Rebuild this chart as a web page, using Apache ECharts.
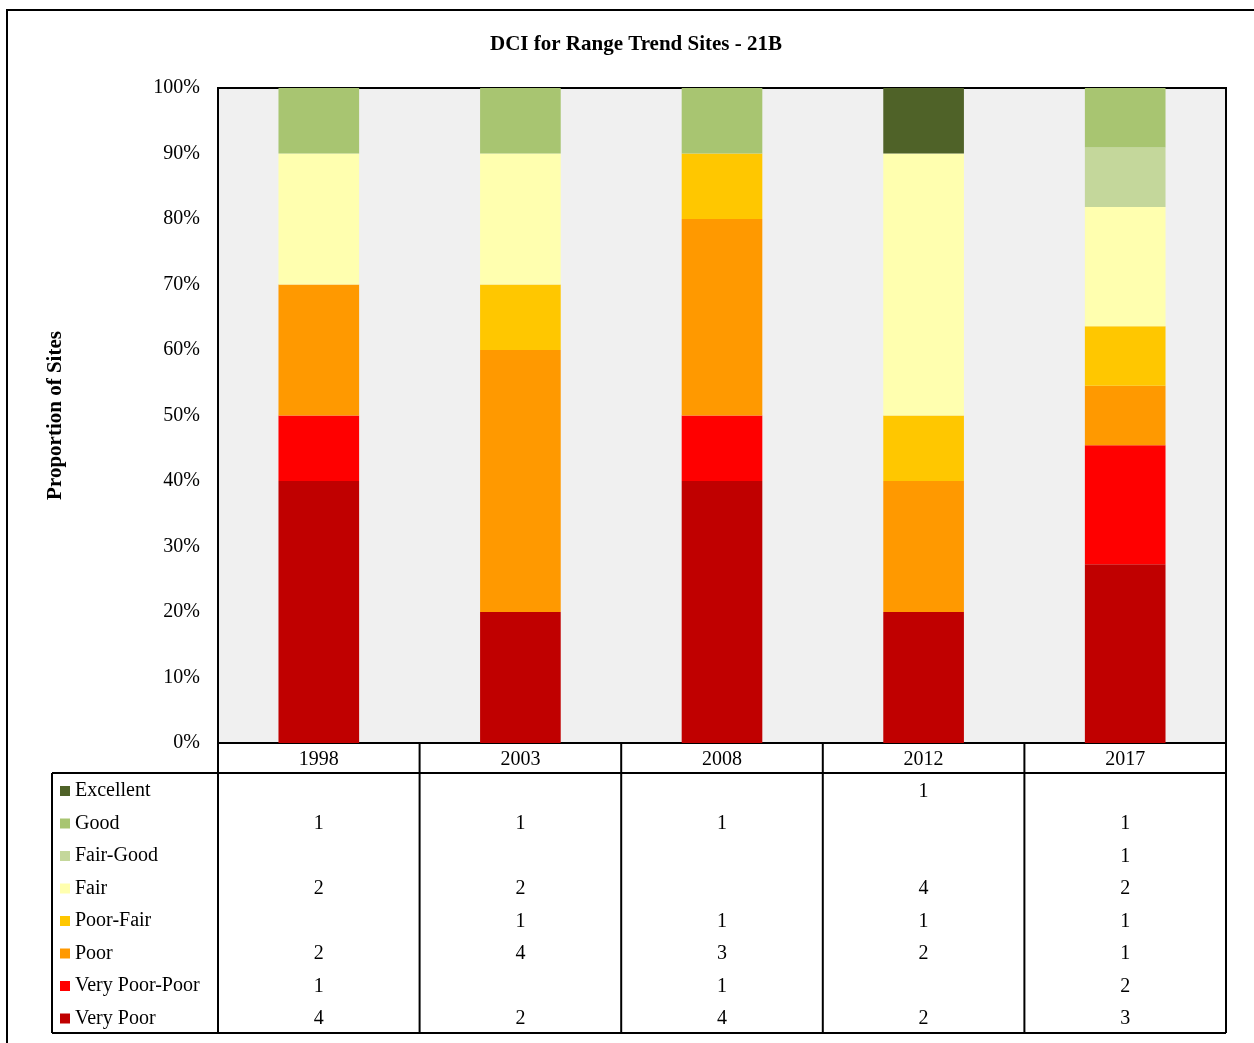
<!DOCTYPE html>
<html>
<head>
<meta charset="utf-8">
<script src="https://cdn.jsdelivr.net/npm/echarts@6/dist/echarts.min.js"></script>
<style>
html,body{margin:0;padding:0;background:#fff;}
#chart{width:1254px;height:1043px;}
</style>
</head>
<body>
<div id="chart"></div>
<script>
// ---- data ----
const categories = ['1998', '2003', '2008', '2012', '2017'];
const seriesNames = ['Excellent', 'Good', 'Fair-Good', 'Fair', 'Poor-Fair', 'Poor', 'Very Poor-Poor', 'Very Poor'];
const excellent    = [null, null, null, 1, null];
const good         = [1, 1, 1, null, 1];
const fairGood     = [null, null, null, null, 1];
const fair         = [2, 2, null, 4, 2];
const poorFair     = [null, 1, 1, 1, 1];
const poor         = [2, 4, 3, 2, 1];
const veryPoorPoor = [1, null, 1, null, 2];
const veryPoor     = [4, 2, 4, 2, 3];
const yTickValues  = [0, 10, 20, 30, 40, 50, 60, 70, 80, 90, 100];
const seriesColors = ['#4F6228', '#A8C571', '#C4D79B', '#FFFFAF', '#FFC700', '#FF9900', '#FF0000', '#C00000'];

const counts = [excellent, good, fairGood, fair, poorFair, poor, veryPoorPoor, veryPoor];
const totals = categories.map((c, j) => counts.reduce((s, arr) => s + (arr[j] || 0), 0));

const FONT = 'Liberation Serif, Times New Roman, serif';

const chart = echarts.init(document.getElementById('chart'), null, {renderer: 'canvas'});

// stack from bottom (Very Poor) to top (Excellent)
const series = [];
for (let i = seriesNames.length - 1; i >= 0; i--) {
  series.push({
    name: seriesNames[i],
    type: 'bar',
    stack: 'total',
    barWidth: '40%',
    itemStyle: {color: seriesColors[i]},
    data: counts[i].map((v, j) => v == null ? null : v / totals[j] * 100)
  });
}

chart.setOption({
  animation: false,
  title: {
    text: 'DCI for Range Trend Sites - 21B',
    left: 631, top: 29, textAlign: 'center',
    textStyle: {fontFamily: FONT, fontSize: 21, fontWeight: 'bold', color: '#000'}
  },
  legend: {
    data: seriesNames,
    orient: 'vertical',
    left: 60, top: 780, padding: 0,
    icon: 'rect', itemWidth: 10, itemHeight: 10,
    itemGap: 10.5,
    textStyle: {fontFamily: FONT, fontSize: 20, lineHeight: 22, color: '#000'},
    selectedMode: false
  },
  grid: {
    left: 218, right: 28, top: 88, bottom: 300,
    show: true, backgroundColor: '#F0F0F0', borderColor: '#000', borderWidth: 2
  },
  xAxis: {
    type: 'category', data: categories,
    axisLine: {show: false}, axisTick: {show: false},
    axisLabel: {fontFamily: FONT, fontSize: 20, color: '#000', margin: 7}
  },
  yAxis: {
    type: 'value', min: yTickValues[0], max: yTickValues[yTickValues.length - 1],
    interval: yTickValues[1] - yTickValues[0],
    name: 'Proportion of Sites', nameLocation: 'middle', nameRotate: 90, nameGap: 152,
    nameTextStyle: {fontFamily: FONT, fontSize: 21, fontWeight: 'bold', color: '#000'},
    axisLine: {show: false}, axisTick: {show: false}, splitLine: {show: false},
    axisLabel: {fontFamily: FONT, fontSize: 20, color: '#000', margin: 18, formatter: '{value}%'}
  },
  series: series
});

// ---- data table below the plot ----
const x0 = chart.convertToPixel({xAxisIndex: 0}, categories[0]);
const x1 = chart.convertToPixel({xAxisIndex: 0}, categories[1]);
const band = x1 - x0;
const axisY = chart.convertToPixel({yAxisIndex: 0}, 0);
const headerH = 30, rowH = 32.5;
const bodyTop = axisY + headerH;
const bodyBottom = bodyTop + rowH * seriesNames.length;
const leftX = x0 - band / 2;
const rightX = chart.convertToPixel({xAxisIndex: 0}, categories[categories.length - 1]) + band / 2;
const labelColLeft = 52;

const lineStyle = {stroke: '#000', lineWidth: 2};
const g = [];
// outer frame
g.push({type: 'rect', shape: {x: 7, y: 10, width: 1300, height: 1100}, style: {fill: null, stroke: '#000', lineWidth: 2}, silent: true});
// vertical separators
for (let j = 0; j <= categories.length; j++) {
  const x = leftX + band * j;
  g.push({type: 'line', shape: {x1: x, y1: axisY, x2: x, y2: bodyBottom}, style: lineStyle, silent: true});
}
g.push({type: 'line', shape: {x1: labelColLeft, y1: bodyTop, x2: labelColLeft, y2: bodyBottom}, style: lineStyle, silent: true});
g.push({type: 'line', shape: {x1: labelColLeft, y1: bodyTop, x2: rightX, y2: bodyTop}, style: lineStyle, silent: true});
g.push({type: 'line', shape: {x1: labelColLeft, y1: bodyBottom, x2: rightX, y2: bodyBottom}, style: lineStyle, silent: true});
// values
seriesNames.forEach((name, i) => {
  const cy = bodyTop + rowH * (i + 0.5) + 2;
  categories.forEach((c, j) => {
    const v = counts[i][j];
    if (v == null) return;
    g.push({
      type: 'text', x: chart.convertToPixel({xAxisIndex: 0}, c), y: cy, silent: true,
      style: {text: String(v), fontFamily: FONT, fontSize: 20, fill: '#000', align: 'center', verticalAlign: 'middle'}
    });
  });
});
chart.setOption({graphic: g});
</script>
</body>
</html>
